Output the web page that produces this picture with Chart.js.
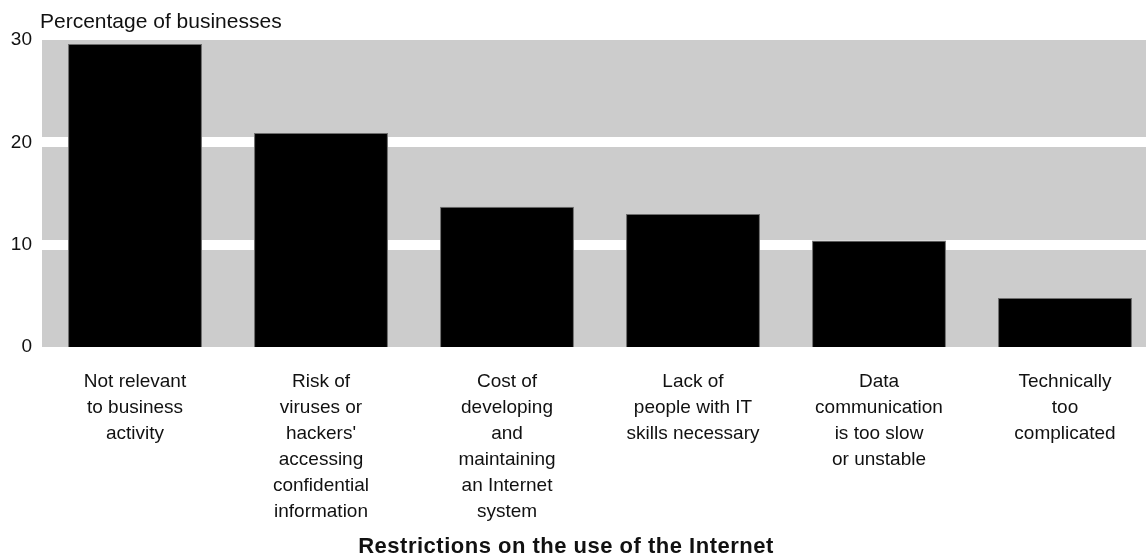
<!DOCTYPE html>
<html>
<head>
<meta charset="utf-8">
<script src="https://cdn.jsdelivr.net/npm/chart.js@4/dist/chart.umd.min.js"></script>
<style>
  html, body { margin: 0; padding: 0; background: #fff; overflow: hidden; }
  #wrap { width: 1158px; height: 556px; position: relative; }
</style>
</head>
<body>
<div id="wrap"><canvas id="myChart"></canvas></div>
<script>
// categories (multi-line labels as in the picture)
const categories = [
    ['Not relevant', 'to business', 'activity'],
    ['Risk of', 'viruses or', "hackers'", 'accessing', 'confidential', 'information'],
    ['Cost of', 'developing', 'and', 'maintaining', 'an Internet', 'system'],
    ['Lack of', 'people with IT', 'skills necessary'],
    ['Data', 'communication', 'is too slow', 'or unstable'],
    ['Technically', 'too', 'complicated']
];
const values = [29.6, 20.9, 13.7, 13.0, 10.4, 4.8];
const yTicks = [0, 10, 20, 30];
const whiteLines = [10, 20];
const yTitle = 'Percentage of businesses';
const xTitle = 'Restrictions on the use of the Internet';

const FONT = "'Liberation Sans', Arial, sans-serif";

function isWhite(c) {
    return c.tick && whiteLines.includes(c.tick.value);
}

// grey plot background + the two axis titles
const decor = {
    id: 'decor',
    beforeDraw(chart) {
        const { ctx, chartArea } = chart;
        ctx.save();
        ctx.fillStyle = '#cccccc';
        ctx.fillRect(chartArea.left, chartArea.top, chartArea.right - chartArea.left, chartArea.bottom - chartArea.top);
        ctx.restore();
    },
    afterDraw(chart) {
        const { ctx, chartArea } = chart;
        ctx.save();
        ctx.fillStyle = '#111';
        ctx.font = '21px ' + FONT;
        ctx.textAlign = 'left';
        ctx.textBaseline = 'alphabetic';
        ctx.fillText(yTitle, chartArea.left - 2, chartArea.top - 12);
        ctx.font = 'bold 22px ' + FONT;
        ctx.letterSpacing = '0.5px';
        ctx.textAlign = 'center';
        ctx.textBaseline = 'middle';
        ctx.fillText(xTitle, 566, chart.height - 9);
        ctx.restore();
    }
};

const ctx = document.getElementById('myChart').getContext('2d');

const myChart = new Chart(ctx, {
    type: 'bar',
    data: {
        labels: categories,
        datasets: [{
            data: values,
            backgroundColor: '#000000',
            borderColor: '#6e6e6e',
            borderWidth: 1,
            barPercentage: 0.72,
            categoryPercentage: 1.0
        }]
    },
    options: {
        responsive: true,
        maintainAspectRatio: false,
        animation: false,
        layout: { padding: { top: 40, right: 0, left: 0, bottom: 0 } },
        plugins: {
            legend: { display: false },
            tooltip: { enabled: false }
        },
        scales: {
            x: {
                grid: { display: false, drawTicks: false },
                border: { display: false },
                ticks: {
                    color: '#111',
                    padding: 22,
                    maxRotation: 0,
                    autoSkip: false,
                    font: { family: FONT, size: 19, lineHeight: 1.37 }
                },
                afterFit(scale) { scale.height = 209; }
            },
            y: {
                min: 0,
                max: 30,
                afterBuildTicks(scale) { scale.ticks = yTicks.map(v => ({ value: v })); },
                grid: {
                    drawTicks: false,
                    lineWidth: c => isWhite(c) ? 10 : 0,
                    color: c => isWhite(c) ? '#ffffff' : 'rgba(0,0,0,0)'
                },
                border: { display: false },
                ticks: {
                    color: '#111',
                    padding: 10,
                    font: { family: FONT, size: 19 }
                },
                afterFit(scale) { scale.width = 42; }
            }
        }
    },
    plugins: [decor]
});
</script>
</body>
</html>
